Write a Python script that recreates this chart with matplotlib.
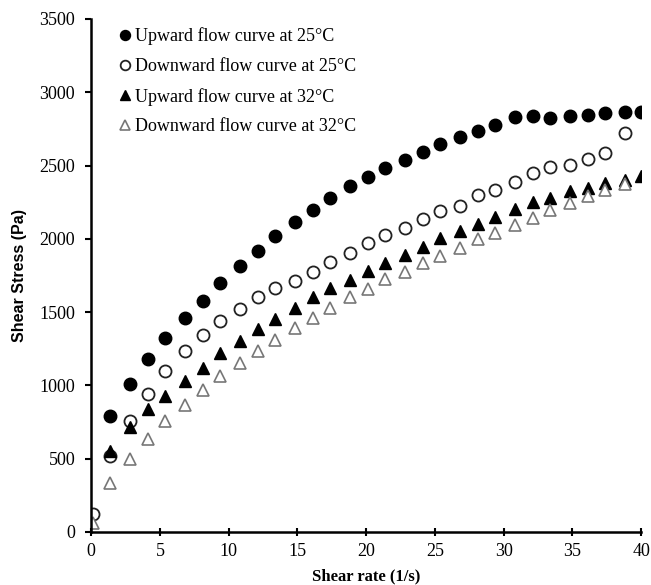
import matplotlib
matplotlib.use('Agg')
import matplotlib.pyplot as plt

# shear rate (1/s) for each recorded point
rate_up = [1.4, 2.8, 4.1, 5.4, 6.8, 8.1, 9.4, 10.8, 12.1, 13.4, 14.8, 16.1, 17.4, 18.8, 20.1,
           21.4, 22.8, 24.1, 25.4, 26.8, 28.1, 29.4, 30.8, 32.1, 33.4, 34.8, 36.1, 37.4, 38.8, 40.0]
rate_down = [0.1, 1.4, 2.8, 4.1, 5.4, 6.8, 8.1, 9.4, 10.8, 12.1, 13.4, 14.8, 16.1, 17.4, 18.8,
             20.1, 21.4, 22.8, 24.1, 25.4, 26.8, 28.1, 29.4, 30.8, 32.1, 33.4, 34.8, 36.1, 37.4, 38.8]

up_25 = [794, 1010, 1178, 1321, 1460, 1575, 1700, 1812, 1918, 2017, 2112, 2197, 2279, 2358, 2420,
         2481, 2538, 2591, 2647, 2697, 2738, 2777, 2829, 2840, 2827, 2838, 2845, 2857, 2863, 2863]
down_25 = [121, 518, 759, 942, 1101, 1237, 1346, 1442, 1521, 1601, 1663, 1713, 1776, 1842, 1903,
           1972, 2026, 2076, 2135, 2192, 2224, 2299, 2333, 2386, 2451, 2492, 2504, 2543, 2584, 2720]
up_32 = [555, 714, 839, 930, 1030, 1119, 1221, 1304, 1383, 1452, 1528, 1600, 1666, 1721, 1778,
         1838, 1890, 1947, 2004, 2054, 2099, 2151, 2202, 2254, 2281, 2327, 2345, 2383, 2402, 2431]
down_32 = [59, 337, 496, 632, 757, 866, 969, 1065, 1153, 1235, 1312, 1390, 1462, 1530, 1603,
           1656, 1724, 1776, 1833, 1883, 1940, 1997, 2038, 2095, 2144, 2197, 2247, 2292, 2333, 2372]

plt.rcParams['font.family'] = ['Liberation Serif', 'DejaVu Serif']

fig = plt.figure(figsize=(6.51, 5.85), dpi=100)
ax = fig.add_axes([0.14, 0.0906, 0.845, 0.877])

ax.plot(rate_up, up_25, 'o', ls='none', color='black', ms=9,
        label='Upward flow curve at 25°C')
ax.plot(rate_down, down_25, 'o', ls='none', mfc='white', mec='#222222', mew=1.3, ms=8.7,
        label='Downward flow curve at 25°C')
ax.plot(rate_up, up_32, '^', ls='none', color='black', ms=9,
        label='Upward flow curve at 32°C')
ax.plot(rate_down, down_32, '^', ls='none', mfc='white', mec='#777777', mew=1.2, ms=9,
        label='Downward flow curve at 32°C')

ax.set_xlim(0, 40)
ax.set_ylim(0, 3500)
ax.set_xticks(range(0, 41, 5))
ax.set_yticks(range(0, 3501, 500))

for s in ['top', 'right']:
    ax.spines[s].set_visible(False)
for s in ['left', 'bottom']:
    ax.spines[s].set_linewidth(1.8)
ax.tick_params(axis='y', direction='out', length=4.5, width=1.5, labelsize=13, pad=7)
ax.tick_params(axis='x', direction='inout', length=6, width=1.5, labelsize=13, pad=5)

ax.set_xlabel('Shear rate (1/s)', fontsize=12, fontweight='bold', labelpad=6)
ax.set_ylabel('Shear Stress (Pa)', fontsize=11.5, fontweight='bold', family='Liberation Sans',
              labelpad=9)

ax.legend(loc='upper left', bbox_to_anchor=(0.026, 1.008), frameon=False, fontsize=13,
          handlelength=0.8, handletextpad=0.15, markerscale=0.8, labelspacing=0.7,
          borderaxespad=0.3)

fig.savefig('out.png', dpi=100)
